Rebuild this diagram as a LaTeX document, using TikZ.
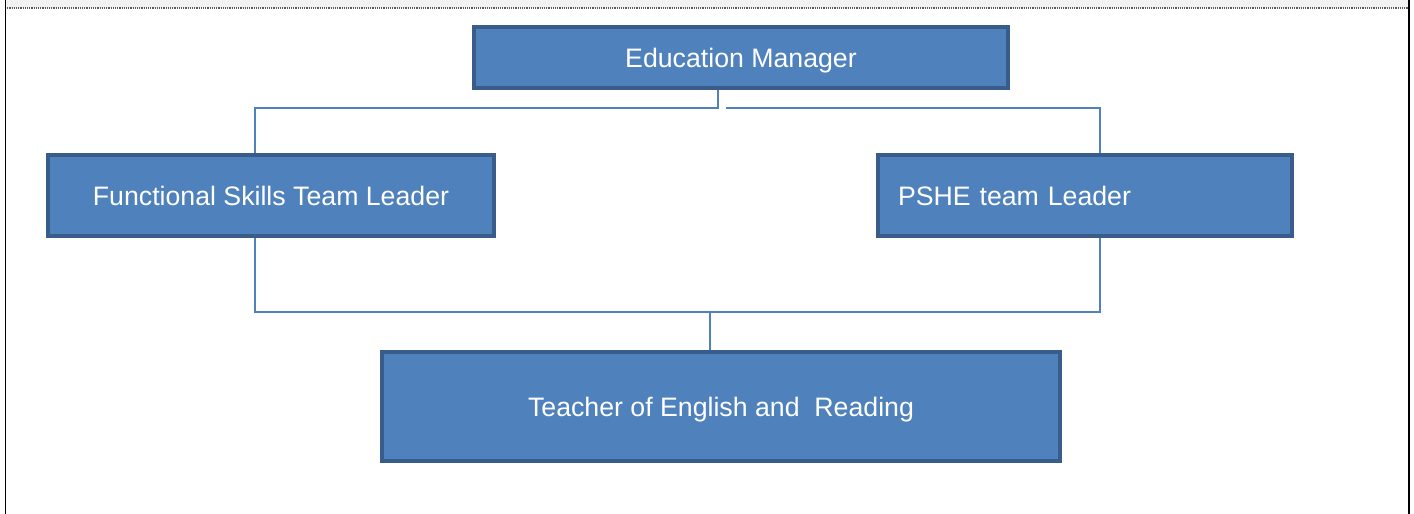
\documentclass[tikz,border=0pt]{standalone}
\usepackage{fontspec}
\setmainfont{Liberation Sans}
\usepackage{xcolor}
\usetikzlibrary{positioning,calc}
\definecolor{boxfill}{HTML}{4F81BD}
\definecolor{boxline}{HTML}{385D8A}
\definecolor{linkcol}{HTML}{4F81BD}

\begin{document}
\begin{tikzpicture}[x=1pt,y=-1pt,
    rolebox/.style={draw=boxline, fill=boxfill, line width=4pt, text=white,
        font=\fontsize{26.7}{32}\selectfont, inner sep=0pt, text depth=0pt},
    link/.style={draw=linkcol, line width=2pt}]
    \useasboundingbox (0,0) rectangle (1414,514);
    % page frame
    \fill[gray!10] (5,0) rectangle (1409,8);
    \draw[gray!70!black, densely dotted, line width=1.2pt] (5,8) -- (1409,8);
    \draw[line width=1.5pt] (5.5,0) -- (5.5,514);
    \draw[line width=1.5pt] (1409,0) -- (1409,514);
    % roles
    \node[rolebox, minimum width=534pt, minimum height=61pt] (edu) at (741,57.5) {Education Manager};
    \node[rolebox, minimum width=446pt, minimum height=81pt] (fs) at (271,195.5) {Functional Skills Team Leader};
    \node[rolebox, text width=374pt, inner xsep=20pt, minimum height=81pt, align=left] (pshe) at (1085,195.5) {PSHE team Leader};
    \node[rolebox, minimum width=678pt, minimum height=109pt] (teach) at (721,406.5) {Teacher of English and\ \ Reading};
    % links
    \coordinate (upl) at (718,108);
    \coordinate (upr) at (726,108);
    \coordinate (low) at (710,312);
    \draw[link] (edu.south -| upl) -- (upl) -| ($(fs.north)+(-16,0)$);
    \draw[link] (upr) -| ($(pshe.north)+(15,0)$);
    \draw[link] ($(fs.south)+(-16,0)$) |- (low) -| ($(pshe.south)+(15,0)$);
    \draw[link] (low) -- (low |- teach.north);
\end{tikzpicture}
\end{document}
